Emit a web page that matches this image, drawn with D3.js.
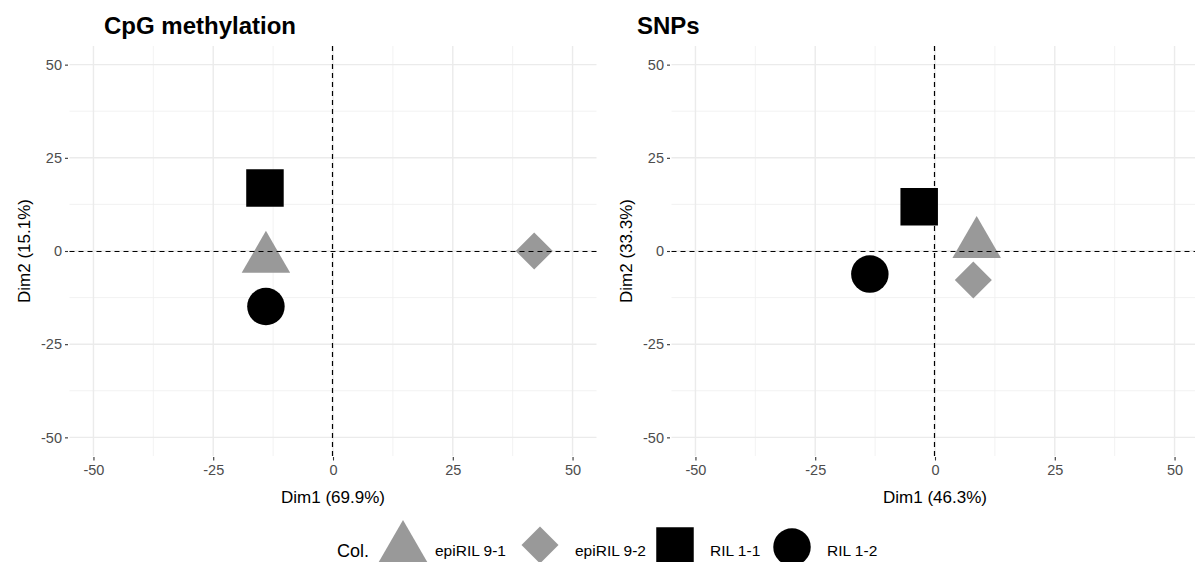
<!DOCTYPE html>
<html><head><meta charset="utf-8">
<script src="https://cdn.jsdelivr.net/npm/d3@7"></script>
<style>
html,body{margin:0;padding:0;background:#fff;}
text{font-family:"Liberation Sans",Arial,sans-serif;}
</style></head>
<body><svg id="c" width="1195" height="562"></svg>
<script>
// ---- data ----
const samples = ["epiRIL 9-1", "epiRIL 9-2", "RIL 1-1", "RIL 1-2"];
const sampleColors = ["#999999", "#999999", "#000000", "#000000"];
const sampleShapes = ["triangle", "diamond", "square", "circle"];
const cpgDim1 = [-14.0, 42.0, -14.2, -14.0];
const cpgDim2 = [-2.1, 0.0, 16.9, -14.9];
const snpDim1 = [8.7, 8.0, -3.3, -13.6];
const snpDim2 = [1.9, -7.8, 11.9, -6.2];
const tickValues = [-50, -25, 0, 25, 50];
const minorTicks = [-37.5, -12.5, 12.5, 37.5];
const panels = [
  {title: "CpG methylation", xLab: "Dim1 (69.9%)", yLab: "Dim2 (15.1%)", dim1: cpgDim1, dim2: cpgDim2},
  {title: "SNPs", xLab: "Dim1 (46.3%)", yLab: "Dim2 (33.3%)", dim1: snpDim1, dim2: snpDim2}
];
const legendTitle = "Col.";

// ---- layout ----
const svg = d3.select("#c");
const panelLeft = [69.5, 671.5];
const panelW = 527, pTop = 46, pBottom = 456;
const titleX = [104, 637];

const symSize = {triangle: 1018, square: 1406, circle: 1104, diamond: 686};
function symPath(shape) {
  const t = shape === "triangle" ? d3.symbolTriangle :
            shape === "circle" ? d3.symbolCircle : d3.symbolSquare;
  return d3.symbol().type(t).size(symSize[shape])();
}
function symTransform(shape, x, y) {
  return `translate(${x},${y})` + (shape === "diamond" ? " rotate(45)" : "");
}
const fmt = d => String(d); // plain hyphen-minus like the reference

panels.forEach((p, pi) => {
  const x0 = panelLeft[pi];
  const x = d3.scaleLinear().domain([-55, 55]).range([x0, x0 + panelW]);
  const y = d3.scaleLinear().domain([-55, 55]).range([pBottom, pTop]);
  const g = svg.append("g");

  // grid
  g.selectAll(".vmin").data(minorTicks).join("line")
    .attr("x1", d => x(d)).attr("x2", d => x(d)).attr("y1", pTop).attr("y2", pBottom)
    .attr("stroke", "#EFEFEF").attr("stroke-width", 0.8);
  g.selectAll(".hmin").data(minorTicks).join("line")
    .attr("y1", d => y(d)).attr("y2", d => y(d)).attr("x1", x0).attr("x2", x0 + panelW)
    .attr("stroke", "#EFEFEF").attr("stroke-width", 0.8);
  g.selectAll(".vmaj").data(tickValues).join("line")
    .attr("x1", d => x(d)).attr("x2", d => x(d)).attr("y1", pTop).attr("y2", pBottom)
    .attr("stroke", "#EBEBEB").attr("stroke-width", 1.4);
  g.selectAll(".hmaj").data(tickValues).join("line")
    .attr("y1", d => y(d)).attr("y2", d => y(d)).attr("x1", x0).attr("x2", x0 + panelW)
    .attr("stroke", "#EBEBEB").attr("stroke-width", 1.4);

  // axes
  const xa = g.append("g").attr("transform", `translate(0,${pBottom + 1})`)
    .call(d3.axisBottom(x).tickValues(tickValues).tickSize(3.5).tickPadding(4).tickFormat(fmt));
  const ya = g.append("g").attr("transform", `translate(${x0 - 1.5},0)`)
    .call(d3.axisLeft(y).tickValues(tickValues).tickSize(3).tickPadding(3).tickFormat(fmt));
  [xa, ya].forEach(a => {
    a.select(".domain").remove();
    a.selectAll(".tick line").attr("stroke", "#333333").attr("stroke-width", 1.1);
    a.selectAll(".tick text").attr("fill", "#4D4D4D").style("font-size", "14.5px")
      .style("font-family", '"Liberation Sans",Arial,sans-serif');
  });

  // points
  g.selectAll(".pt").data(samples).join("path")
    .attr("d", (d, i) => symPath(sampleShapes[i]))
    .attr("transform", (d, i) => symTransform(sampleShapes[i], x(p.dim1[i]), y(p.dim2[i])))
    .attr("fill", (d, i) => sampleColors[i]);

  // reference lines
  const hy = Math.round(y(0)) + 0.5, vx = Math.round(x(0)) - 0.5;
  g.append("line").attr("x1", x0).attr("x2", x0 + panelW).attr("y1", hy).attr("y2", hy)
    .attr("stroke", "#000").attr("stroke-width", 1.2).attr("stroke-dasharray", "5,4");
  g.append("line").attr("x1", vx).attr("x2", vx).attr("y1", pTop).attr("y2", pBottom)
    .attr("stroke", "#000").attr("stroke-width", 1.2).attr("stroke-dasharray", "5,4");

  // titles
  g.append("text").attr("x", titleX[pi]).attr("y", 34).text(p.title)
    .style("font-size", "24px").style("font-weight", "bold").attr("fill", "#000");
  g.append("text").attr("x", x(0)).attr("y", 503).attr("text-anchor", "middle").text(p.xLab)
    .style("font-size", "17px").attr("fill", "#000");
  const yc = (pTop + pBottom) / 2;
  const ytx = x0 - 40;
  g.append("text").attr("transform", `translate(${ytx},${yc}) rotate(-90)`).attr("text-anchor", "middle")
    .text(p.yLab).style("font-size", "17px").attr("fill", "#000");
});

// ---- legend ----
const lg = svg.append("g");
lg.append("text").attr("x", 337).attr("y", 557).text(legendTitle).style("font-size", "18px").attr("fill", "#000");
const keyX = [403, 540, 675, 792];
const keyY = [548, 545, 546, 547];
const labX = [435, 575, 710, 827];
samples.forEach((s, i) => {
  lg.append("path").attr("d", symPath(sampleShapes[i]))
    .attr("transform", symTransform(sampleShapes[i], keyX[i], keyY[i]))
    .attr("fill", sampleColors[i]);
  lg.append("text").attr("x", labX[i]).attr("y", 556).text(s).style("font-size", "15.5px").attr("fill", "#000");
});
</script>
</body></html>
